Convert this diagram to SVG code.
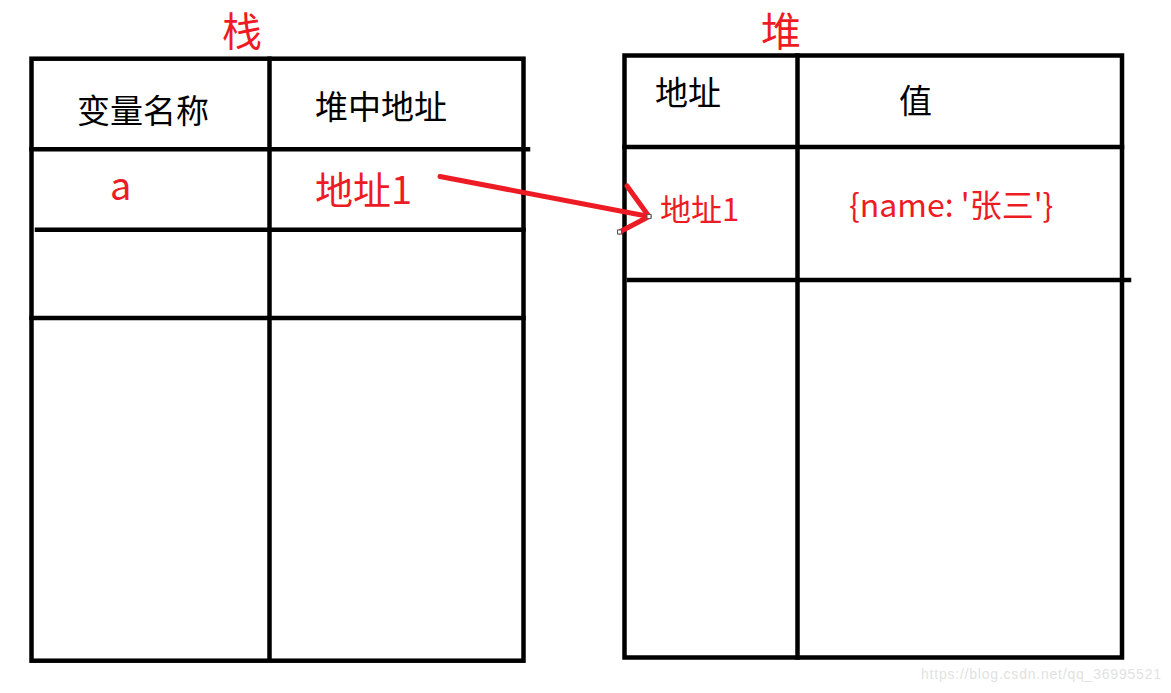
<svg xmlns="http://www.w3.org/2000/svg" width="1171" height="693" viewBox="0 0 1171 693">
<style>
.ln{stroke:#000;stroke-width:4.5;fill:none;stroke-linecap:square}
.blk{font-family:"Noto Sans CJK SC","Liberation Sans",sans-serif;fill:#000;font-size:33px}
.red{font-family:"Noto Sans CJK SC","Liberation Sans",sans-serif;fill:#ED1C24}
.arr{stroke:#ED1C24;stroke-width:5;fill:none;stroke-linecap:round;stroke-linejoin:round}
.hd{fill:#fff;stroke:#555;stroke-width:1}
</style>
<rect width="1171" height="693" fill="#fff"/>
<g id="stack">
  <text class="red" x="242" y="46" font-size="40" text-anchor="middle">栈</text>
  <rect class="ln" x="31.5" y="58.7" width="492" height="602"/>
  <line class="ln" x1="269.5" y1="58.7" x2="269.5" y2="659"/>
  <line class="ln" x1="31.5" y1="149.3" x2="528" y2="149.3"/>
  <line class="ln" x1="37" y1="229.8" x2="523.5" y2="229.8"/>
  <line class="ln" x1="31.5" y1="318" x2="523.5" y2="318"/>
  <text class="blk" x="77" y="123">变量名称</text>
  <text class="blk" x="315" y="119">堆中地址</text>
  <text class="red" x="110" y="200" font-size="38">a</text>
  <text class="red" x="315" y="204" font-size="38">地址1</text>
</g>
<g id="heap">
  <text class="red" x="781" y="46" font-size="40" text-anchor="middle">堆</text>
  <rect class="ln" x="624.5" y="55.5" width="497.5" height="602"/>
  <line class="ln" x1="797.5" y1="55.5" x2="797.5" y2="657.5"/>
  <line class="ln" x1="624.5" y1="147" x2="1122" y2="147"/>
  <line class="ln" x1="629" y1="280" x2="1129" y2="280"/>
  <text class="blk" x="655" y="105">地址</text>
  <text class="blk" x="899" y="113">值</text>
  <text class="red" x="660" y="221" font-size="31">地址1</text>
  <text class="red" x="849" y="217" font-size="32">{name: '张三'}</text>
</g>
<g id="connectors">
  <line class="arr" x1="440" y1="176.5" x2="649" y2="216.5"/>
  <polyline class="arr" points="627,186 649,216.5 619.5,232"/>
  <rect class="hd" x="647" y="214.5" width="4" height="4"/>
  <rect class="hd" x="617.5" y="230" width="4" height="4"/>
</g>
<text x="921" y="679" font-family="Liberation Sans, Arial, sans-serif" font-size="14" fill="#e2e2e2" textLength="240">https://blog.csdn.net/qq_36995521</text>
</svg>
